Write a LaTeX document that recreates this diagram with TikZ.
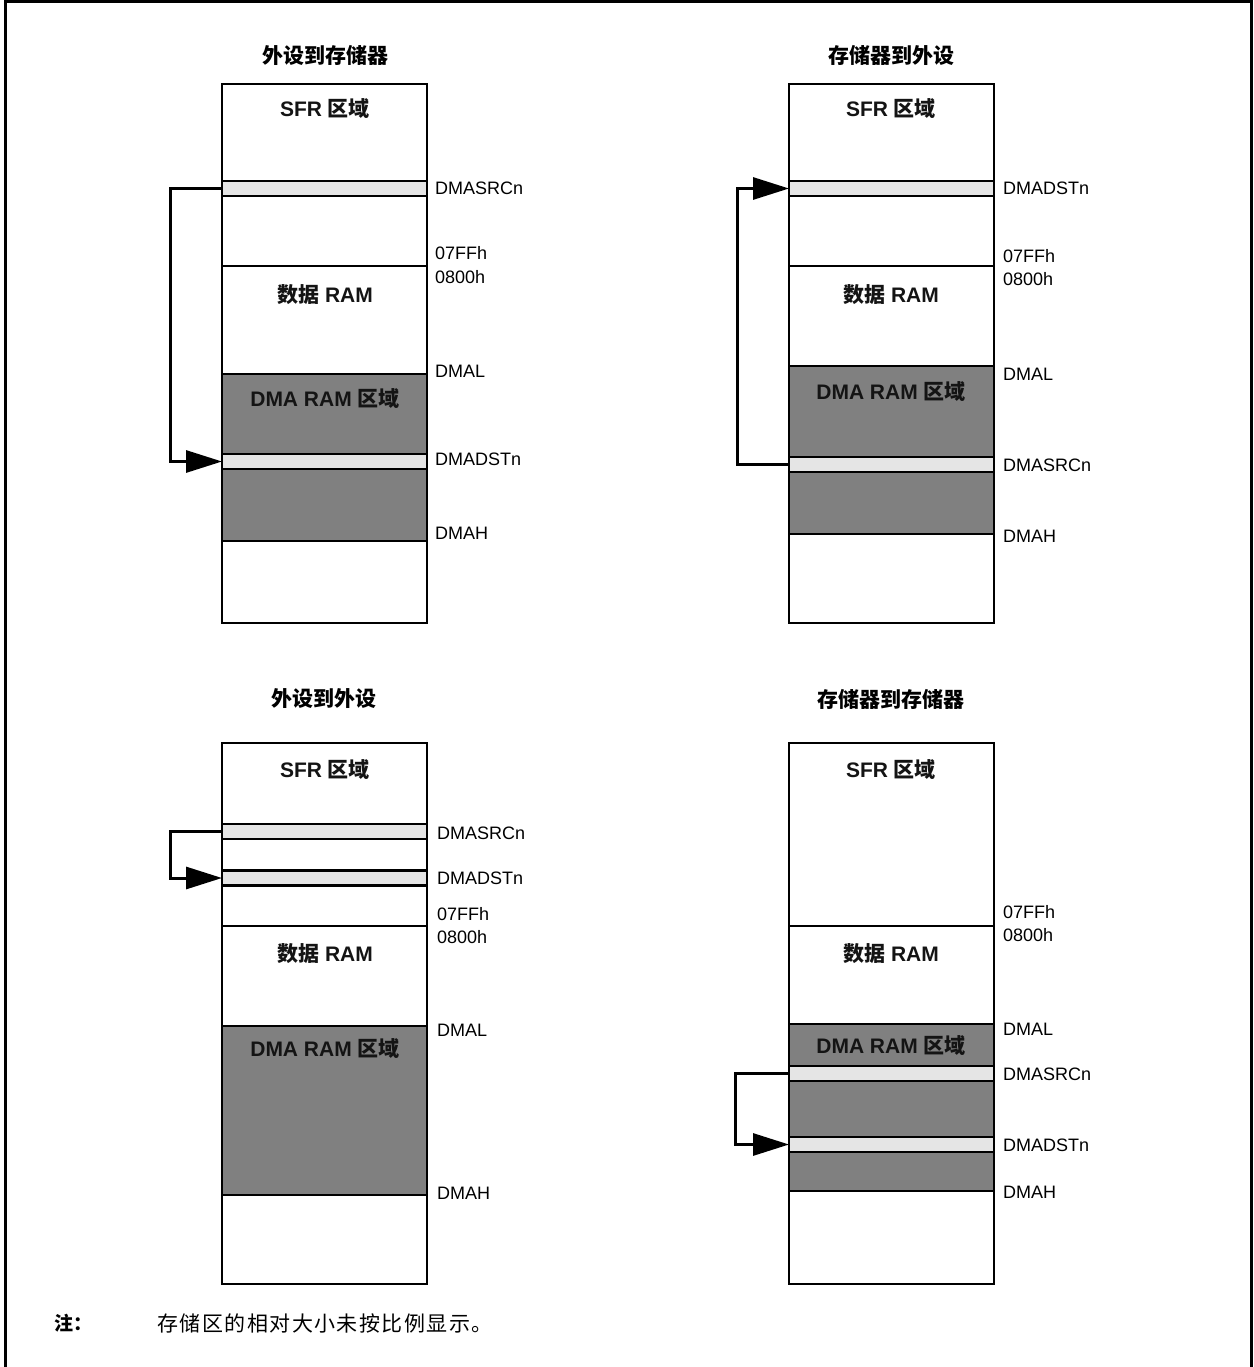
\documentclass[tikz,border=0pt]{standalone}
\usepackage{fontspec}
\setmainfont{Liberation Sans}
\newfontfamily\cjk{Noto Sans CJK SC}
\newfontfamily\cjknote{Noto Sans CJK SC}[LetterSpace=7]
\usetikzlibrary{arrows.meta}
\definecolor{dmagray}{HTML}{808080}
\definecolor{bandgray}{HTML}{E5E5E5}
\begin{document}
\begin{tikzpicture}[x=1pt,y=-1pt,
  memline/.style={line width=2.6pt},
  dmafill/.style={fill=dmagray},
  band/.style={draw,line width=2.6pt,fill=bandgray,minimum width=205pt,minimum height=15pt,inner sep=0pt,outer sep=0pt},
  addr/.style={anchor=west,inner sep=0pt,font=\fontsize{18}{20}\selectfont},
  region/.style={inner sep=0pt,font=\fontsize{21}{24}\selectfont\bfseries,text=black!92},
  title/.style={inner sep=0pt,font=\fontsize{21}{24}\selectfont\bfseries\cjk},
  flow/.style={line width=3pt,-{Triangle[length=36pt,width=22pt]}}
]
\useasboundingbox (0,0) rectangle (1253,1367);
% outer frame
\draw[line width=3pt] (5.5,1367) -- (5.5,1.5) -- (1251.5,1.5) -- (1251.5,1367);

% ================= top-left: peripheral to memory =================
\node[title] (t1) at (325,55) {外设到存储器};
\fill[dmafill] (222,374) rectangle (427,541);
\draw[memline] (222,266) -- (427,266);
\draw[memline] (222,374) -- (427,374);
\draw[memline] (222,541) -- (427,541);
\node[band] (a-src) at (324.5,188.5) {};
\node[band] (a-dst) at (324.5,461.5) {};
\draw[memline] (222,84) rectangle (427,623);
\node[region] (a-sfr) at (325,109) {SFR {\cjk 区域}};
\node[region] (a-ram) at (325,295) {{\cjk 数据} RAM};
\node[region] (a-dma) at (325,399) {DMA RAM {\cjk 区域}};
\node[addr] (a-l1) at (435,188) {DMASRCn};
\node[addr] (a-l2) at (435,253) {07FFh};
\node[addr] (a-l3) at (435,277) {0800h};
\node[addr] (a-l4) at (435,371) {DMAL};
\node[addr] (a-l5) at (435,459) {DMADSTn};
\node[addr] (a-l6) at (435,533) {DMAH};
\draw[flow] (a-src.west) -- ++(-52,0) |- (a-dst.west);

% ================= top-right: memory to peripheral =================
\node[title] (t2) at (891,55) {存储器到外设};
\fill[dmafill] (789,366) rectangle (994,534);
\draw[memline] (789,266) -- (994,266);
\draw[memline] (789,366) -- (994,366);
\draw[memline] (789,534) -- (994,534);
\node[band] (b-dst) at (891.5,188.5) {};
\node[band] (b-src) at (891.5,464.5) {};
\draw[memline] (789,84) rectangle (994,623);
\node[region] (b-sfr) at (891,109) {SFR {\cjk 区域}};
\node[region] (b-ram) at (891,295) {{\cjk 数据} RAM};
\node[region] (b-dma) at (891,392) {DMA RAM {\cjk 区域}};
\node[addr] (b-l1) at (1003,188) {DMADSTn};
\node[addr] (b-l2) at (1003,256) {07FFh};
\node[addr] (b-l3) at (1003,279) {0800h};
\node[addr] (b-l4) at (1003,374) {DMAL};
\node[addr] (b-l5) at (1003,465) {DMASRCn};
\node[addr] (b-l6) at (1003,536) {DMAH};
\draw[flow] (b-src.west) -- ++(-52,0) |- (b-dst.west);

% ================= bottom-left: peripheral to peripheral =================
\node[title] (t3) at (324,699) {外设到外设};
\fill[dmafill] (222,1026) rectangle (427,1195);
\draw[memline] (222,926) -- (427,926);
\draw[memline] (222,1026) -- (427,1026);
\draw[memline] (222,1195) -- (427,1195);
\node[band] (c-src) at (324.5,831.5) {};
\node[band] (c-dst) at (324.5,878) {};
\draw[memline] (222,743) rectangle (427,1284);
\node[region] (c-sfr) at (325,770) {SFR {\cjk 区域}};
\node[region] (c-ram) at (325,954) {{\cjk 数据} RAM};
\node[region] (c-dma) at (325,1048) {DMA RAM {\cjk 区域}};
\node[addr] (c-l1) at (437,833) {DMASRCn};
\node[addr] (c-l2) at (437,914) {07FFh};
\node[addr] (c-l3) at (437,937) {0800h};
\node[addr] (c-l4) at (437,1030) {DMAL};
\node[addr] (c-l5) at (437,878) {DMADSTn};
\node[addr] (c-l6) at (437,1193) {DMAH};
\draw[flow] (c-src.west) -- ++(-52,0) |- (c-dst.west);

% ================= bottom-right: memory to memory =================
\node[title] (t4) at (891,699) {存储器到存储器};
\fill[dmafill] (789,1024) rectangle (994,1191);
\draw[memline] (789,926) -- (994,926);
\draw[memline] (789,1024) -- (994,1024);
\draw[memline] (789,1191) -- (994,1191);
\node[band] (d-src) at (891.5,1073.5) {};
\node[band] (d-dst) at (891.5,1144.5) {};
\draw[memline] (789,743) rectangle (994,1284);
\node[region] (d-sfr) at (891,770) {SFR {\cjk 区域}};
\node[region] (d-ram) at (891,954) {{\cjk 数据} RAM};
\node[region] (d-dma) at (891,1045) {DMA RAM {\cjk 区域}};
\node[addr] (d-l2) at (1003,912) {07FFh};
\node[addr] (d-l3) at (1003,935) {0800h};
\node[addr] (d-l4) at (1003,1029) {DMAL};
\node[addr] (d-l1) at (1003,1074) {DMASRCn};
\node[addr] (d-l5) at (1003,1145) {DMADSTn};
\node[addr] (d-l6) at (1003,1192) {DMAH};
\draw[flow] (d-src.west) -- ++(-54,0) |- (d-dst.west);

% ================= note =================
\node[anchor=west,inner sep=0pt,font=\fontsize{19}{22}\selectfont\cjk\bfseries] (n1) at (54,1323) {注：};
\node[anchor=west,inner sep=0pt,font=\fontsize{21}{24}\selectfont\cjknote] (n2) at (157,1323) {存储区的相对大小未按比例显示。};
\end{tikzpicture}
\end{document}
